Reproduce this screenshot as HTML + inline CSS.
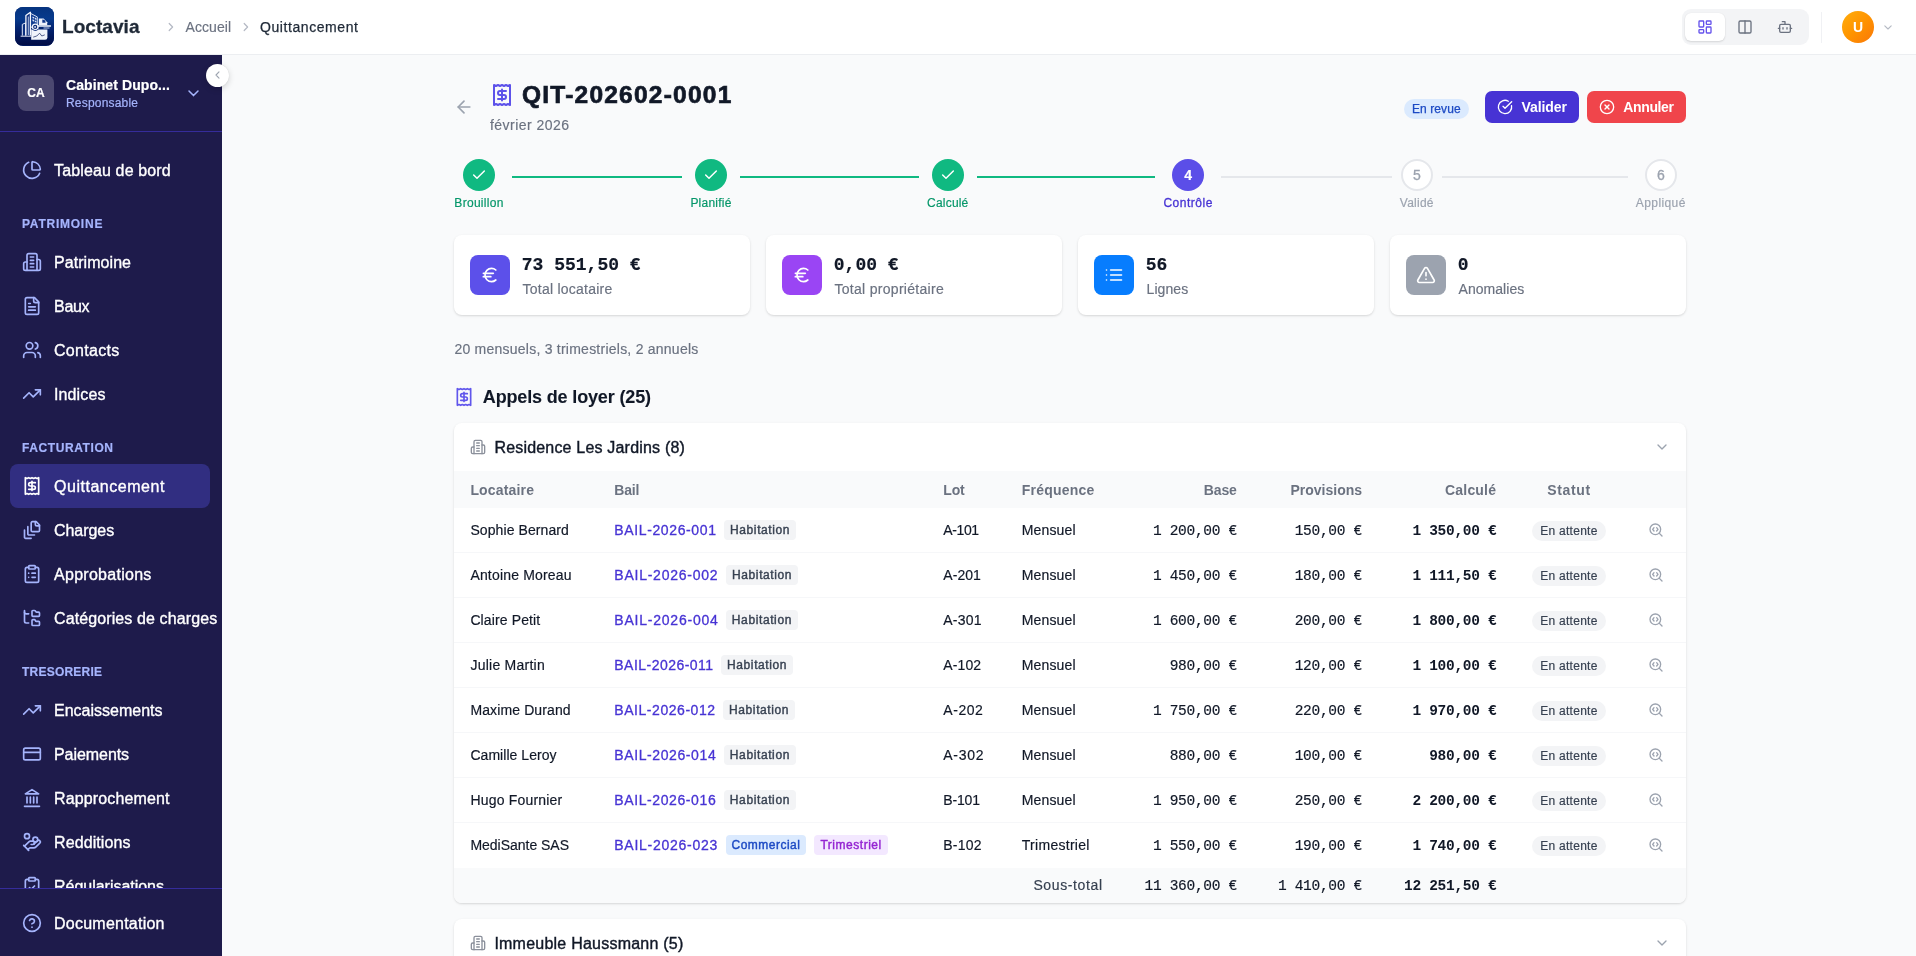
<!DOCTYPE html>
<html lang="fr">
<head>
<meta charset="utf-8">
<title>Loctavia - Quittancement</title>
<style>
*{box-sizing:border-box;margin:0;padding:0}
html,body{width:1916px;height:956px;overflow:hidden;background:#f9fafb;font-family:"Liberation Sans",sans-serif;color:#111827}
body{position:relative}
.abs{position:absolute}
svg{display:block;overflow:visible}
.ic{fill:none;stroke:currentColor;stroke-linecap:round;stroke-linejoin:round}
.mono{font-family:"Liberation Mono",monospace}
/* ---------- top bar ---------- */
#top{will-change:transform;position:absolute;left:0;top:0;width:1916px;height:55px;background:#fff;border-bottom:1px solid #eceef1;z-index:5}
#logo{position:absolute;left:14.5px;top:7px;width:39px;height:38.5px;border-radius:8px;background:#02267a;overflow:hidden}
#brand{position:absolute;left:62px;top:15px;font-size:19px;line-height:24px;font-weight:700;color:#1f2937;-webkit-text-stroke:.3px #1f2937;letter-spacing:.1px;white-space:nowrap}
.crumb{position:absolute;top:17px;font-size:14px;line-height:20px;white-space:nowrap;-webkit-text-stroke-width:.15px}
/* ---------- sidebar ---------- */
#side{-webkit-text-stroke-width:.2px;will-change:transform;position:absolute;left:0;top:55px;width:222px;height:901px;background:#1e1b4b;z-index:4}
.nav{position:absolute;left:54px;margin-top:.7px;font-size:16px;line-height:24px;color:#fff;white-space:nowrap;-webkit-text-stroke-width:.35px}
.nic{position:absolute;left:22px;width:20px;height:20px;color:#a5b4fc;margin-top:1px}
.lu{stroke-width:2}
.sec{position:absolute;left:22px;margin-top:1px;font-size:12px;line-height:16px;font-weight:700;color:#a5b4fc;letter-spacing:1.1px;white-space:nowrap}
/* ---------- main ---------- */
#main{-webkit-text-stroke-width:.18px;will-change:transform;position:absolute;left:0;top:0;width:1916px;height:956px;z-index:1}
.t14{font-size:14px;line-height:20px;white-space:nowrap}
.t12{font-size:12px;line-height:16px;white-space:nowrap}
.b{font-weight:700;-webkit-text-stroke-width:0}
.md{-webkit-text-stroke-width:.3px}
.sb{-webkit-text-stroke-width:.1px}
.md16{font-size:16px;line-height:24px;white-space:nowrap;color:#111827;-webkit-text-stroke-width:.4px}
.card{background:#fff;border-radius:8px;box-shadow:0 1px 3px rgba(0,0,0,.1),0 1px 2px rgba(0,0,0,.06)}
.th{font-size:14px;line-height:20px;font-weight:700;color:#6b7280;white-space:nowrap;-webkit-text-stroke-width:0}
.m14{margin-top:.5px;font-size:14.5px;letter-spacing:-.3px;margin-right:-.3px;line-height:20px;color:#111827;white-space:nowrap}
.bdg{height:20px;border-radius:4px;padding:0;text-align:center;font-size:12px;line-height:20px;white-space:nowrap;-webkit-text-stroke-width:.4px}
.bh{background:#f3f4f6;color:#374151}
.bc{background:#dbeafe;color:#1d4ac4}
.bt{background:#f3e8ff;color:#9424d2}
</style>
</head>
<body>

<!-- ================= TOP BAR ================= -->
<div id="top">
  <div id="logo">
    <svg width="39" height="38.500" viewBox="0 0 39 38.500">
      <defs>
        <linearGradient id="lg" x1="0" y1="0" x2="0" y2="1"><stop offset="0" stop-color="#06347f"/><stop offset=".3" stop-color="#073a8c"/><stop offset=".62" stop-color="#021f6a"/><stop offset="1" stop-color="#010c44"/></linearGradient>
      </defs>
      <rect width="39" height="38.500" fill="url(#lg)"/>
      <!-- small left building (outlined) -->
      <path d="M7.300 28.600V17.400l3.300-1.500v12.700" fill="#0b2f7e" stroke="#e4ebfa" stroke-width="1" stroke-linejoin="round"/>
      <!-- tall building right face -->
      <path d="M15.400 6.300 22.300 9.900V18.500l-6.900 2z" fill="#123f92" stroke="#eef3fd" stroke-width=".9" stroke-linejoin="round"/>
      <path d="M17.500 9.400l1.700.8v1.600l-1.700-.7zM19.900 10.600l1.500.7v1.600l-1.500-.7zM17.500 12.300l1.700.7v1.700l-1.700-.6zM19.900 13.400l1.500.6v1.600l-1.500-.5z" fill="#dbe5fa"/>
      <!-- tall building front face (outlined) -->
      <path d="M10.900 28.600V8.600l4.500-3.300V28.600" fill="#0a2d7c" stroke="#f3f6fe" stroke-width="1.300" stroke-linejoin="round"/>
      <path d="M13.300 9.500V28" stroke="#dfe8fb" stroke-width=".8"/>
      <!-- ground line -->
      <path d="M6 29.200h9.800" stroke="#e6ecfb" stroke-width="1" stroke-linecap="round"/>
      <!-- doc top with pie -->
      <path d="M23.800 11.400h4.800l3.600 3.800v3H23.800z" fill="#eef2fc"/>
      <path d="M27.300 12.500v3.300h3.300a3.300 3.300 0 0 0-3.300-3.300z" fill="#12398c"/>
      <!-- lower card -->
      <path d="M16.200 22.400h16.200v8a2.300 2.300 0 0 1-2.300 2.300H16.200z" fill="#f0f3fb"/>
      <path d="M18.600 30l3.200-1 2.800-2.800 2.200 2.800 2.600-1" fill="none" stroke="#2c3a6e" stroke-width=".8" stroke-linejoin="round" stroke-linecap="round"/>
      <!-- key -->
      <path d="M22.500 18.300h13.400v1.400H22.500z" fill="#f4f7fe"/>
      <path d="M28.500 20.400h6v1H28.500z" fill="#b9c7ea"/>
      <circle cx="20.200" cy="19.900" r="3.500" fill="#f4f7fe"/>
      <circle cx="20.200" cy="19.900" r="2.100" fill="#0a2a78"/>
      <circle cx="20.100" cy="19.900" r=".9" fill="#f4f7fe"/>
      <path d="M17 21.600a3.800 3.800 0 0 0 6.200.6" fill="none" stroke="#0a2a78" stroke-width=".9"/>
    </svg>
  </div>
  <div id="brand" style=";letter-spacing:0.06px">Loctavia</div>
  <svg class="abs ic" style="left:168px;top:22px;color:#b4b9c4" width="6" height="10" viewBox="0 0 6 10" stroke-width="1.2"><path d="M1.2 1.5 4.6 5 1.2 8.5"/></svg>
  <div class="crumb" id="c1" style="left:185.5px;color:#6b7280;letter-spacing:0.09px">Accueil</div>
  <svg class="abs ic" style="left:243px;top:22px;color:#b4b9c4" width="6" height="10" viewBox="0 0 6 10" stroke-width="1.2"><path d="M1.2 1.5 4.6 5 1.2 8.5"/></svg>
  <div class="crumb" id="c2" style="left:260px;color:#1f2937;-webkit-text-stroke:.25px #1f2937;letter-spacing:0.57px">Quittancement</div>

  <!-- view toggle -->
  <div class="abs" style="left:1681.5px;top:9px;width:127px;height:35.5px;border-radius:9px;background:#f3f4f6"></div>
  <div class="abs" style="left:1685px;top:13px;width:40px;height:27.5px;border-radius:6px;background:#fff;box-shadow:0 1px 2px rgba(0,0,0,.12),0 0 1px rgba(0,0,0,.08)"></div>
  <svg class="abs ic" style="left:1697px;top:19px;color:#6552ec" width="16" height="16" viewBox="0 0 24 24" stroke-width="2"><rect width="7" height="9" x="3" y="3" rx="1"/><rect width="7" height="5" x="14" y="3" rx="1"/><rect width="7" height="9" x="14" y="12" rx="1"/><rect width="7" height="5" x="3" y="16" rx="1"/></svg>
  <svg class="abs ic" style="left:1737px;top:19px;color:#6b7280" width="16" height="16" viewBox="0 0 24 24" stroke-width="2"><rect width="18" height="18" x="3" y="3" rx="2"/><path d="M12 3v18"/></svg>
  <svg class="abs ic" style="left:1777px;top:19px;color:#6b7280" width="16" height="16" viewBox="0 0 24 24" stroke-width="2"><path d="M12 8V4H8"/><rect width="16" height="12" x="4" y="8" rx="2"/><path d="M2 14h2"/><path d="M20 14h2"/><path d="M15 13v2"/><path d="M9 13v2"/></svg>
  <div class="abs" style="left:1821px;top:12px;width:1px;height:31px;background:#f0f1f4"></div>
  <div class="abs" style="left:1842px;top:11px;width:32px;height:32px;border-radius:50%;background:linear-gradient(135deg,#ffae0c 0%,#ff9400 50%,#fa7708 100%);color:#fff;font-size:14px;font-weight:700;line-height:32px;text-align:center">U</div>
  <svg class="abs ic" style="left:1884px;top:25px;color:#b4b9c3" width="8" height="5" viewBox="0 0 8 5" stroke-width="1.1"><path d="M.8.8 4 4 7.2.8"/></svg>
</div>

<!-- ================= SIDEBAR ================= -->
<div id="side">
  <!-- org switcher (coords relative to #side: y = page_y - 55) -->
  <div class="abs" style="left:18px;top:20px;width:36px;height:36px;border-radius:8px;background:#4b4870;color:#fff;font-size:12px;font-weight:700;line-height:36px;text-align:center;letter-spacing:.2px">CA</div>
  <div class="abs" id="org" style="left:66px;top:20px;font-size:14px;line-height:20px;font-weight:700;color:#fff;white-space:nowrap;letter-spacing:0.09px">Cabinet Dupo...</div>
  <div class="abs" id="role" style="left:66px;top:40px;font-size:12px;line-height:16px;color:#a5b4fc;white-space:nowrap;letter-spacing:0.19px">Responsable</div>
  <svg class="abs ic" style="left:188px;top:35px;color:#a5b4fc" width="11" height="7" viewBox="0 0 11 7" stroke-width="1.5"><path d="M1 1 5.5 5.6 10 1"/></svg>
  <div class="abs" style="left:0;top:76px;width:222px;height:1px;background:#352c9b"></div>

  <div class="abs" id="navclip" style="left:0;top:77px;width:222px;height:756px;overflow:hidden">
   <!-- coords inside clip: y = page_y - 132 -->
   <div class="abs" style="left:10px;top:332px;width:200px;height:44px;border-radius:8px;background:#312e81"></div>

   <svg class="nic ic lu" style="top:27px" viewBox="0 0 24 24"><path d="M21 12c.552 0 1.005-.449.95-.998a10 10 0 0 0-8.953-8.951c-.55-.055-.998.398-.998.95v8a1 1 0 0 0 1 1z"/><path d="M21.21 15.89A10 10 0 1 1 8 2.83"/></svg>
   <div class="nav" id="n1" style="top:26px;letter-spacing:0.14px">Tableau de bord</div>

   <div class="sec" id="s1" style="top:83px;letter-spacing:0.76px">PATRIMOINE</div>

   <svg class="nic ic lu" style="top:119px" viewBox="0 0 24 24"><path d="M6 22V4a2 2 0 0 1 2-2h8a2 2 0 0 1 2 2v18Z"/><path d="M6 12H4a2 2 0 0 0-2 2v6a2 2 0 0 0 2 2h2"/><path d="M18 9h2a2 2 0 0 1 2 2v9a2 2 0 0 1-2 2h-2"/><path d="M10 6h4M10 10h4M10 14h4M10 18h4"/></svg>
   <div class="nav" id="n2" style="top:118px;letter-spacing:0.06px">Patrimoine</div>

   <svg class="nic ic lu" style="top:163px" viewBox="0 0 24 24"><path d="M15 2H6a2 2 0 0 0-2 2v16a2 2 0 0 0 2 2h12a2 2 0 0 0 2-2V7Z"/><path d="M14 2v4a2 2 0 0 0 2 2h4"/><path d="M10 9H8M16 13H8M16 17H8"/></svg>
   <div class="nav" id="n3" style="top:162px;letter-spacing:-0.29px">Baux</div>

   <svg class="nic ic lu" style="top:207px" viewBox="0 0 24 24"><path d="M16 21v-2a4 4 0 0 0-4-4H6a4 4 0 0 0-4 4v2"/><circle cx="9" cy="7" r="4"/><path d="M22 21v-2a4 4 0 0 0-3-3.870"/><path d="M16 3.130a4 4 0 0 1 0 7.750"/></svg>
   <div class="nav" id="n4" style="top:206px;letter-spacing:0.31px">Contacts</div>

   <svg class="nic ic lu" style="top:251px" viewBox="0 0 24 24"><path d="M22 7 13.500 15.500 8.500 10.500 2 17"/><path d="M16 7h6v6"/></svg>
   <div class="nav" id="n5" style="top:250px;letter-spacing:0.12px">Indices</div>

   <div class="sec" id="s2" style="top:307px;letter-spacing:0.59px">FACTURATION</div>

   <svg class="nic ic lu" style="top:343px;color:#fff" viewBox="0 0 24 24"><path d="M4 2v20l2-1 2 1 2-1 2 1 2-1 2 1 2-1 2 1V2l-2 1-2-1-2 1-2-1-2 1-2-1-2 1Z"/><path d="M16 8h-6a2 2 0 1 0 0 4h4a2 2 0 1 1 0 4H8"/><path d="M12 17.500v-11"/></svg>
   <div class="nav" id="n6" style="top:342px;letter-spacing:0.53px">Quittancement</div>

   <svg class="nic ic lu" style="top:387px" viewBox="0 0 24 24"><path d="M21 7h-3a2 2 0 0 1-2-2V2"/><path d="M21 6v6.500c0 .8-.7 1.500-1.500 1.500h-7c-.8 0-1.500-.7-1.500-1.500v-9c0-.8.7-1.500 1.500-1.500H17Z"/><path d="M7 8v8.800c0 .3.2.6.4.8.2.2.5.4.8.4H15"/><path d="M3 12v8.800c0 .3.2.6.4.8.2.2.5.4.8.4H11"/></svg>
   <div class="nav" id="n7" style="top:386px;letter-spacing:-0.05px">Charges</div>

   <svg class="nic ic lu" style="top:431px" viewBox="0 0 24 24"><rect width="8" height="4" x="8" y="2" rx="1" ry="1"/><path d="M16 4h2a2 2 0 0 1 2 2v14a2 2 0 0 1-2 2H6a2 2 0 0 1-2-2V6a2 2 0 0 1 2-2h2"/><path d="M12 11h4M12 16h4M8 11h.01M8 16h.01"/></svg>
   <div class="nav" id="n8" style="top:430px;letter-spacing:0.28px">Approbations</div>

   <svg class="nic ic lu" style="top:475px" viewBox="0 0 24 24"><path d="M20 10a1 1 0 0 0 1-1V6a1 1 0 0 0-1-1h-2.500a1 1 0 0 1-.8-.4l-.9-1.200A1 1 0 0 0 15 3h-2a1 1 0 0 0-1 1v5a1 1 0 0 0 1 1Z"/><path d="M20 21a1 1 0 0 0 1-1v-3a1 1 0 0 0-1-1h-2.900a1 1 0 0 1-.880-.550l-.420-.850a1 1 0 0 0-.920-.6H13a1 1 0 0 0-1 1v5a1 1 0 0 0 1 1Z"/><path d="M3 5a2 2 0 0 0 2 2h3"/><path d="M3 3v13a2 2 0 0 0 2 2h3"/></svg>
   <div class="nav" id="n9" style="top:474px;letter-spacing:0.11px">Catégories de charges</div>

   <div class="sec" id="s3" style="top:531px;letter-spacing:0.22px">TRESORERIE</div>

   <svg class="nic ic lu" style="top:567px" viewBox="0 0 24 24"><path d="M22 7 13.500 15.500 8.500 10.500 2 17"/><path d="M16 7h6v6"/></svg>
   <div class="nav" id="n10" style="top:566px;letter-spacing:0.0px">Encaissements</div>

   <svg class="nic ic lu" style="top:611px" viewBox="0 0 24 24"><rect width="20" height="14" x="2" y="5" rx="2"/><path d="M2 10h20"/></svg>
   <div class="nav" id="n11" style="top:610px;letter-spacing:-0.06px">Paiements</div>

   <svg class="nic ic lu" style="top:655px" viewBox="0 0 24 24"><path d="M3 22h18M6 18v-7M10 18v-7M14 18v-7M18 18v-7"/><path d="M12 2l8 5H4z"/></svg>
   <div class="nav" id="n12" style="top:654px;letter-spacing:0.13px">Rapprochement</div>

   <svg class="nic ic lu" style="top:699px" viewBox="0 0 24 24"><path d="M11 15h2a2 2 0 1 0 0-4h-3c-.6 0-1.100.2-1.400.6L3 17"/><path d="m7 21 1.600-1.400c.3-.4.8-.6 1.400-.6h4c1.100 0 2.100-.4 2.800-1.200l4.600-4.400a2 2 0 0 0-2.750-2.910l-4.200 3.900"/><path d="m2 16 6 6"/><circle cx="16" cy="9" r="2.900"/><circle cx="6" cy="5" r="3"/></svg>
   <div class="nav" id="n13" style="top:698px;letter-spacing:0.1px">Redditions</div>

   <svg class="nic ic lu" style="top:743px" viewBox="0 0 24 24"><rect width="8" height="4" x="8" y="2" rx="1" ry="1"/><path d="M16 4h2a2 2 0 0 1 2 2v14a2 2 0 0 1-2 2H6a2 2 0 0 1-2-2V6a2 2 0 0 1 2-2h2"/><path d="m9 14 2 2 4-4"/></svg>
   <div class="nav" id="n14" style="top:742px;letter-spacing:-0.02px">Régularisations</div>
  </div>
  <div class="abs" style="left:0;top:833px;width:222px;height:1px;background:#352c9b"></div>
  <svg class="nic ic lu" style="top:857px" viewBox="0 0 24 24"><circle cx="12" cy="12" r="10"/><path d="M9.090 9a3 3 0 0 1 5.830 1c0 2-3 3-3 3"/><path d="M12 17h.01"/></svg>
  <div class="nav" id="n15" style="top:856px;letter-spacing:0.24px">Documentation</div>
</div>
<!-- collapse handle -->
<div class="abs" style="left:206px;top:63.5px;width:23px;height:23px;border-radius:50%;background:#fff;box-shadow:0 2px 6px rgba(0,0,0,.16),0 0 1px rgba(0,0,0,.2);z-index:6"></div>
<svg class="abs ic" style="left:214.5px;top:71px;color:#9ca3af;z-index:7" width="5" height="8" viewBox="0 0 5 8" stroke-width="1.1"><path d="M4 .8 1 4l3 3.2"/></svg>

<!-- ================= MAIN ================= -->
<!--MAIN-START-->
<div id="main">
<svg class="abs ic" style="left:453.8px;top:97px;color:#9ca3af" width="20" height="20" viewBox="0 0 24 24" stroke-width="2"><path d="m12 19-7-7 7-7"/><path d="M19 12H5"/></svg>
<svg class="abs ic" style="left:490px;top:83px;color:#5d52ea" width="24" height="24" viewBox="0 0 24 24" stroke-width="2"><path d="M4 2v20l2-1 2 1 2-1 2 1 2-1 2 1 2-1 2 1V2l-2 1-2-1-2 1-2-1-2 1-2-1-2 1Z"/><path d="M16 8h-6a2 2 0 1 0 0 4h4a2 2 0 1 1 0 4H8"/><path d="M12 17.500v-11"/></svg>
<div class="abs" id="ttl" style="left:522px;top:79px;font-size:24.5px;line-height:32px;font-weight:700;color:#111827;white-space:nowrap;-webkit-text-stroke-width:.7px;letter-spacing:1.23px">QIT-202602-0001</div>
<div class="abs t14" id="sub" style="left:490px;top:115px;color:#6b7280;letter-spacing:0.46px">février 2026</div>
<div class="abs" style="left:1404px;top:99px;width:65px;height:20px;border-radius:10px;background:#dbeafe"></div>
<div class="abs t12" id="rev" style="left:1412px;top:101px;color:#1d4ac4;-webkit-text-stroke-width:.25px;letter-spacing:0.08px">En revue</div>
<div class="abs" style="left:1485px;top:91px;width:94px;height:32px;border-radius:7px;background:#4733d4"></div>
<svg class="abs ic" style="left:1497px;top:99px;color:#fff" width="16" height="16" viewBox="0 0 24 24" stroke-width="2"><path d="M21.801 10A10 10 0 1 1 17 3.335"/><path d="m9 11 3 3L22 4"/></svg>
<div class="abs t14 b" id="bv" style="left:1521.5px;top:97px;color:#fff;letter-spacing:-0.09px">Valider</div>
<div class="abs" style="left:1587px;top:91px;width:99px;height:32px;border-radius:7px;background:#f0454b"></div>
<svg class="abs ic" style="left:1599px;top:99px;color:#fff" width="16" height="16" viewBox="0 0 24 24" stroke-width="2"><circle cx="12" cy="12" r="10"/><path d="m15 9-6 6"/><path d="m9 9 6 6"/></svg>
<div class="abs t14 b" id="ba" style="left:1623.3px;top:97px;color:#fff;letter-spacing:-0.37px">Annuler</div>
<div class="abs" style="left:512.2px;top:175.5px;width:169.7px;height:2px;background:#10b981"></div>
<div class="abs" style="left:740.3px;top:175.5px;width:178.5px;height:2px;background:#10b981"></div>
<div class="abs" style="left:977px;top:175.5px;width:178px;height:2px;background:#10b981"></div>
<div class="abs" style="left:1221.3px;top:175.5px;width:170.4px;height:2px;background:#e5e7eb"></div>
<div class="abs" style="left:1442px;top:175.5px;width:185.6px;height:2px;background:#e5e7eb"></div>
<div class="abs" style="left:463px;top:159px;width:32px;height:32px;border-radius:50%;background:#10b981"></div>
<svg class="abs ic" style="left:471px;top:167px;color:#fff" width="16" height="16" viewBox="0 0 24 24" stroke-width="2.2"><path d="M20 6 9 17l-5-5"/></svg>
<div class="abs t12" style="left:429px;top:194.8px;width:100px;text-align:center;color:#059669"><span id="st1" style="letter-spacing:0.29px">Brouillon</span></div>
<div class="abs" style="left:695px;top:159px;width:32px;height:32px;border-radius:50%;background:#10b981"></div>
<svg class="abs ic" style="left:703px;top:167px;color:#fff" width="16" height="16" viewBox="0 0 24 24" stroke-width="2.2"><path d="M20 6 9 17l-5-5"/></svg>
<div class="abs t12" style="left:661px;top:194.8px;width:100px;text-align:center;color:#059669"><span id="st2" style="letter-spacing:0.23px">Planifié</span></div>
<div class="abs" style="left:931.8px;top:159px;width:32px;height:32px;border-radius:50%;background:#10b981"></div>
<svg class="abs ic" style="left:939.8px;top:167px;color:#fff" width="16" height="16" viewBox="0 0 24 24" stroke-width="2.2"><path d="M20 6 9 17l-5-5"/></svg>
<div class="abs t12" style="left:897.8px;top:194.8px;width:100px;text-align:center;color:#059669"><span id="st3" style="letter-spacing:0.19px">Calculé</span></div>
<div class="abs" style="left:1172.2px;top:159px;width:32px;height:32px;border-radius:50%;background:#5b4ee8;color:#fff;font-size:14px;font-weight:700;line-height:32px;text-align:center">4</div>
<div class="abs t12 md" style="left:1138.2px;top:194.8px;width:100px;text-align:center;color:#4733d4"><span id="st4" style="letter-spacing:0.52px">Contrôle</span></div>
<div class="abs" style="left:1400.8px;top:159px;width:32px;height:32px;border-radius:50%;background:#fff;border:2px solid #e5e7eb;color:#9ca3af;font-size:14px;line-height:28px;text-align:center;-webkit-text-stroke:.3px #9ca3af">5</div>
<div class="abs t12" style="left:1366.8px;top:194.8px;width:100px;text-align:center;color:#9ca3af"><span id="st5" style="letter-spacing:0.23px">Validé</span></div>
<div class="abs" style="left:1644.8px;top:159px;width:32px;height:32px;border-radius:50%;background:#fff;border:2px solid #e5e7eb;color:#9ca3af;font-size:14px;line-height:28px;text-align:center;-webkit-text-stroke:.3px #9ca3af">6</div>
<div class="abs t12" style="left:1610.8px;top:194.8px;width:100px;text-align:center;color:#9ca3af"><span id="st6" style="letter-spacing:0.4px">Appliqué</span></div>
<div class="abs card" style="left:454px;top:235px;width:296px;height:79.5px"></div>
<div class="abs" style="left:470px;top:255px;width:40px;height:40px;border-radius:8px;background:#5c50ea"></div>
<svg class="abs ic" style="left:480px;top:265px;color:#fff" width="20" height="20" viewBox="0 0 24 24" stroke-width="2"><path d="M4 10h12"/><path d="M4 14h9"/><path d="M19 6a7.700 7.700 0 0 0-5.200-2A7.900 7.900 0 0 0 6 12c0 4.400 3.500 8 7.800 8 2 0 3.800-.8 5.200-2"/></svg>
<div class="abs mono" style="left:521.8px;top:253px;font-size:18px;line-height:24px;font-weight:700;color:#111827;white-space:nowrap">73 551,50 €</div>
<div class="abs t14" id="k1" style="left:522.5px;top:279px;color:#6b7280;letter-spacing:0.24px">Total locataire</div>
<div class="abs card" style="left:766px;top:235px;width:296px;height:79.5px"></div>
<div class="abs" style="left:782px;top:255px;width:40px;height:40px;border-radius:8px;background:#9a45f4"></div>
<svg class="abs ic" style="left:792px;top:265px;color:#fff" width="20" height="20" viewBox="0 0 24 24" stroke-width="2"><path d="M4 10h12"/><path d="M4 14h9"/><path d="M19 6a7.700 7.700 0 0 0-5.200-2A7.900 7.900 0 0 0 6 12c0 4.400 3.500 8 7.800 8 2 0 3.800-.8 5.200-2"/></svg>
<div class="abs mono" style="left:833.8px;top:253px;font-size:18px;line-height:24px;font-weight:700;color:#111827;white-space:nowrap">0,00 €</div>
<div class="abs t14" id="k2" style="left:834.5px;top:279px;color:#6b7280;letter-spacing:0.29px">Total propriétaire</div>
<div class="abs card" style="left:1078px;top:235px;width:296px;height:79.5px"></div>
<div class="abs" style="left:1094px;top:255px;width:40px;height:40px;border-radius:8px;background:#077dfe"></div>
<svg class="abs ic" style="left:1104px;top:265px;color:#fff" width="20" height="20" viewBox="0 0 24 24" stroke-width="2"><path d="M3 12h.01"/><path d="M3 18h.01"/><path d="M3 6h.01"/><path d="M8 12h13"/><path d="M8 18h13"/><path d="M8 6h13"/></svg>
<div class="abs mono" style="left:1145.8px;top:253px;font-size:18px;line-height:24px;font-weight:700;color:#111827;white-space:nowrap">56</div>
<div class="abs t14" id="k3" style="left:1146.5px;top:279px;color:#6b7280;letter-spacing:0.09px">Lignes</div>
<div class="abs card" style="left:1390px;top:235px;width:296px;height:79.5px"></div>
<div class="abs" style="left:1406px;top:255px;width:40px;height:40px;border-radius:8px;background:#9ca3af"></div>
<svg class="abs ic" style="left:1416px;top:265px;color:#fff" width="20" height="20" viewBox="0 0 24 24" stroke-width="2"><path d="m21.730 18-8-14a2 2 0 0 0-3.480 0l-8 14A2 2 0 0 0 4 21h16a2 2 0 0 0 1.730-3"/><path d="M12 9v4"/><path d="M12 17h.01"/></svg>
<div class="abs mono" style="left:1457.8px;top:253px;font-size:18px;line-height:24px;font-weight:700;color:#111827;white-space:nowrap">0</div>
<div class="abs t14" id="k4" style="left:1458.5px;top:279px;color:#6b7280;letter-spacing:0.05px">Anomalies</div>
<div class="abs t14" id="freq" style="left:454.4px;top:339px;color:#6b7280;letter-spacing:0.24px">20 mensuels, 3 trimestriels, 2 annuels</div>
<svg class="abs ic" style="left:454px;top:387px;color:#6156ec" width="20" height="20" viewBox="0 0 24 24" stroke-width="2"><path d="M4 2v20l2-1 2 1 2-1 2 1 2-1 2 1 2-1 2 1V2l-2 1-2-1-2 1-2-1-2 1-2-1-2 1Z"/><path d="M16 8h-6a2 2 0 1 0 0 4h4a2 2 0 1 1 0 4H8"/><path d="M12 17.500v-11"/></svg>
<div class="abs sb" id="h2" style="left:482.8px;top:383px;font-size:18px;line-height:28px;font-weight:700;color:#111827;white-space:nowrap;letter-spacing:-0.15px">Appels de loyer (25)</div>
<div class="abs card" style="left:454px;top:423px;width:1232px;height:480px"></div>
<svg class="abs ic" style="left:470px;top:439px;color:#8b909b" width="16" height="16" viewBox="0 0 24 24" stroke-width="2"><path d="M6 22V4a2 2 0 0 1 2-2h8a2 2 0 0 1 2 2v18Z"/><path d="M6 12H4a2 2 0 0 0-2 2v6a2 2 0 0 0 2 2h2"/><path d="M18 9h2a2 2 0 0 1 2 2v9a2 2 0 0 1-2 2h-2"/><path d="M10 6h4"/><path d="M10 10h4"/><path d="M10 14h4"/><path d="M10 18h4"/></svg>
<div class="abs md16" id="g1" style="left:494.4px;top:436px;letter-spacing:0.19px">Residence Les Jardins (8)</div>
<svg class="abs ic" style="left:1654px;top:439px;color:#9ca3af" width="16" height="16" viewBox="0 0 24 24" stroke-width="2"><path d="m6 9 6 6 6-6"/></svg>
<div class="abs" style="left:454px;top:471px;width:1232px;height:37px;background:#f9fafb"></div>
<div class="abs th" id="th1" style="left:470.4px;top:480px;letter-spacing:0.16px">Locataire</div>
<div class="abs th" id="th2" style="left:614.3px;top:480px;letter-spacing:-0.23px">Bail</div>
<div class="abs th" id="th3" style="left:943.3px;top:480px;letter-spacing:-0.18px">Lot</div>
<div class="abs th" id="th4" style="left:1021.8px;top:480px;letter-spacing:0.22px">Fréquence</div>
<div class="abs th" style="right:679.3px;top:480px"><span id="th5" style="letter-spacing:-0.16px">Base</span></div>
<div class="abs th" style="right:554px;top:480px"><span id="th6" style="letter-spacing:-0.01px">Provisions</span></div>
<div class="abs th" style="right:419.8px;top:480px"><span id="th7" style="letter-spacing:0.2px">Calculé</span></div>
<div class="abs th" style="left:1519px;top:480px;width:100px;text-align:center"><span id="th8" style="letter-spacing:0.63px">Statut</span></div>
<div class="abs" style="left:454px;top:552px;width:1232px;height:1px;background:#f6f7f9"></div>
<div class="abs t14" id="r0n" style="left:470.4px;top:520px;color:#111827;letter-spacing:0.09px">Sophie Bernard</div>
<div class="abs t14 md" id="r0b" style="left:614.3px;top:520px;color:#4733d4;letter-spacing:0.62px">BAIL-2026-001</div>
<div class="abs bdg bh" style="left:724.2px;top:520px;width:71.8px"><span id="r0g0t" style="letter-spacing:0.61px">Habitation</span></div>
<div class="abs t14" id="r0l" style="left:943.3px;top:520px;color:#111827;letter-spacing:-0.39px">A-101</div>
<div class="abs t14" id="r0f" style="left:1021.8px;top:520px;color:#111827;letter-spacing:0.13px">Mensuel</div>
<div class="abs mono m14" style="right:679.4000000000001px;top:520px">1 200,00 €</div>
<div class="abs mono m14" style="right:554.4000000000001px;top:520px">150,00 €</div>
<div class="abs mono m14 b" style="right:419.9000000000001px;top:520px">1 350,00 €</div>
<div class="abs" style="left:1532px;top:520.5px;width:73.5px;height:20px;border-radius:10px;background:#f3f4f6"></div>
<div class="abs t12" id="r0s" style="left:1540.3px;top:522.5px;color:#374151;letter-spacing:0.26px">En attente</div>
<svg class="abs ic" style="left:1648px;top:522px;color:#9ca3af" width="16" height="16" viewBox="0 0 24 24" stroke-width="2"><path d="m13 13.500 2-2.500-2-2.500"/><path d="m21 21-4.300-4.300"/><path d="M9 8.500 7 11l2 2.500"/><circle cx="11" cy="11" r="8"/></svg>
<div class="abs" style="left:454px;top:597px;width:1232px;height:1px;background:#f6f7f9"></div>
<div class="abs t14" id="r1n" style="left:470.4px;top:565px;color:#111827;letter-spacing:0.18px">Antoine Moreau</div>
<div class="abs t14 md" id="r1b" style="left:614.3px;top:565px;color:#4733d4;letter-spacing:0.76px">BAIL-2026-002</div>
<div class="abs bdg bh" style="left:726.2px;top:565px;width:71.8px"><span id="r1g0t" style="letter-spacing:0.61px">Habitation</span></div>
<div class="abs t14" id="r1l" style="left:943.3px;top:565px;color:#111827;letter-spacing:0.04px">A-201</div>
<div class="abs t14" id="r1f" style="left:1021.8px;top:565px;color:#111827;letter-spacing:0.13px">Mensuel</div>
<div class="abs mono m14" style="right:679.4000000000001px;top:565px">1 450,00 €</div>
<div class="abs mono m14" style="right:554.4000000000001px;top:565px">180,00 €</div>
<div class="abs mono m14 b" style="right:419.9000000000001px;top:565px">1 111,50 €</div>
<div class="abs" style="left:1532px;top:565.5px;width:73.5px;height:20px;border-radius:10px;background:#f3f4f6"></div>
<div class="abs t12" id="r1s" style="left:1540.3px;top:567.5px;color:#374151;letter-spacing:0.26px">En attente</div>
<svg class="abs ic" style="left:1648px;top:567px;color:#9ca3af" width="16" height="16" viewBox="0 0 24 24" stroke-width="2"><path d="m13 13.500 2-2.500-2-2.500"/><path d="m21 21-4.300-4.300"/><path d="M9 8.500 7 11l2 2.500"/><circle cx="11" cy="11" r="8"/></svg>
<div class="abs" style="left:454px;top:642px;width:1232px;height:1px;background:#f6f7f9"></div>
<div class="abs t14" id="r2n" style="left:470.4px;top:610px;color:#111827;letter-spacing:0.12px">Claire Petit</div>
<div class="abs t14 md" id="r2b" style="left:614.3px;top:610px;color:#4733d4;letter-spacing:0.78px">BAIL-2026-004</div>
<div class="abs bdg bh" style="left:726px;top:610px;width:71.8px"><span id="r2g0t" style="letter-spacing:0.61px">Habitation</span></div>
<div class="abs t14" id="r2l" style="left:943.3px;top:610px;color:#111827;letter-spacing:0.19px">A-301</div>
<div class="abs t14" id="r2f" style="left:1021.8px;top:610px;color:#111827;letter-spacing:0.13px">Mensuel</div>
<div class="abs mono m14" style="right:679.4000000000001px;top:610px">1 600,00 €</div>
<div class="abs mono m14" style="right:554.4000000000001px;top:610px">200,00 €</div>
<div class="abs mono m14 b" style="right:419.9000000000001px;top:610px">1 800,00 €</div>
<div class="abs" style="left:1532px;top:610.5px;width:73.5px;height:20px;border-radius:10px;background:#f3f4f6"></div>
<div class="abs t12" id="r2s" style="left:1540.3px;top:612.5px;color:#374151;letter-spacing:0.26px">En attente</div>
<svg class="abs ic" style="left:1648px;top:612px;color:#9ca3af" width="16" height="16" viewBox="0 0 24 24" stroke-width="2"><path d="m13 13.500 2-2.500-2-2.500"/><path d="m21 21-4.300-4.300"/><path d="M9 8.500 7 11l2 2.500"/><circle cx="11" cy="11" r="8"/></svg>
<div class="abs" style="left:454px;top:687px;width:1232px;height:1px;background:#f6f7f9"></div>
<div class="abs t14" id="r3n" style="left:470.4px;top:655px;color:#111827;letter-spacing:0.25px">Julie Martin</div>
<div class="abs t14 md" id="r3b" style="left:614.3px;top:655px;color:#4733d4;letter-spacing:0.47px">BAIL-2026-011</div>
<div class="abs bdg bh" style="left:721.2px;top:655px;width:71.8px"><span id="r3g0t" style="letter-spacing:0.61px">Habitation</span></div>
<div class="abs t14" id="r3l" style="left:943.3px;top:655px;color:#111827;letter-spacing:0.11px">A-102</div>
<div class="abs t14" id="r3f" style="left:1021.8px;top:655px;color:#111827;letter-spacing:0.13px">Mensuel</div>
<div class="abs mono m14" style="right:679.4000000000001px;top:655px">980,00 €</div>
<div class="abs mono m14" style="right:554.4000000000001px;top:655px">120,00 €</div>
<div class="abs mono m14 b" style="right:419.9000000000001px;top:655px">1 100,00 €</div>
<div class="abs" style="left:1532px;top:655.5px;width:73.5px;height:20px;border-radius:10px;background:#f3f4f6"></div>
<div class="abs t12" id="r3s" style="left:1540.3px;top:657.5px;color:#374151;letter-spacing:0.26px">En attente</div>
<svg class="abs ic" style="left:1648px;top:657px;color:#9ca3af" width="16" height="16" viewBox="0 0 24 24" stroke-width="2"><path d="m13 13.500 2-2.500-2-2.500"/><path d="m21 21-4.300-4.300"/><path d="M9 8.500 7 11l2 2.500"/><circle cx="11" cy="11" r="8"/></svg>
<div class="abs" style="left:454px;top:732px;width:1232px;height:1px;background:#f6f7f9"></div>
<div class="abs t14" id="r4n" style="left:470.4px;top:700px;color:#111827;letter-spacing:0.12px">Maxime Durand</div>
<div class="abs t14 md" id="r4b" style="left:614.3px;top:700px;color:#4733d4;letter-spacing:0.55px">BAIL-2026-012</div>
<div class="abs bdg bh" style="left:723.2px;top:700px;width:71.8px"><span id="r4g0t" style="letter-spacing:0.61px">Habitation</span></div>
<div class="abs t14" id="r4l" style="left:943.3px;top:700px;color:#111827;letter-spacing:0.54px">A-202</div>
<div class="abs t14" id="r4f" style="left:1021.8px;top:700px;color:#111827;letter-spacing:0.13px">Mensuel</div>
<div class="abs mono m14" style="right:679.4000000000001px;top:700px">1 750,00 €</div>
<div class="abs mono m14" style="right:554.4000000000001px;top:700px">220,00 €</div>
<div class="abs mono m14 b" style="right:419.9000000000001px;top:700px">1 970,00 €</div>
<div class="abs" style="left:1532px;top:700.5px;width:73.5px;height:20px;border-radius:10px;background:#f3f4f6"></div>
<div class="abs t12" id="r4s" style="left:1540.3px;top:702.5px;color:#374151;letter-spacing:0.26px">En attente</div>
<svg class="abs ic" style="left:1648px;top:702px;color:#9ca3af" width="16" height="16" viewBox="0 0 24 24" stroke-width="2"><path d="m13 13.500 2-2.500-2-2.500"/><path d="m21 21-4.300-4.300"/><path d="M9 8.500 7 11l2 2.500"/><circle cx="11" cy="11" r="8"/></svg>
<div class="abs" style="left:454px;top:777px;width:1232px;height:1px;background:#f6f7f9"></div>
<div class="abs t14" id="r5n" style="left:470.4px;top:745px;color:#111827;letter-spacing:0.05px">Camille Leroy</div>
<div class="abs t14 md" id="r5b" style="left:614.3px;top:745px;color:#4733d4;letter-spacing:0.6px">BAIL-2026-014</div>
<div class="abs bdg bh" style="left:724px;top:745px;width:71.8px"><span id="r5g0t" style="letter-spacing:0.61px">Habitation</span></div>
<div class="abs t14" id="r5l" style="left:943.3px;top:745px;color:#111827;letter-spacing:0.69px">A-302</div>
<div class="abs t14" id="r5f" style="left:1021.8px;top:745px;color:#111827;letter-spacing:0.13px">Mensuel</div>
<div class="abs mono m14" style="right:679.4000000000001px;top:745px">880,00 €</div>
<div class="abs mono m14" style="right:554.4000000000001px;top:745px">100,00 €</div>
<div class="abs mono m14 b" style="right:419.9000000000001px;top:745px">980,00 €</div>
<div class="abs" style="left:1532px;top:745.5px;width:73.5px;height:20px;border-radius:10px;background:#f3f4f6"></div>
<div class="abs t12" id="r5s" style="left:1540.3px;top:747.5px;color:#374151;letter-spacing:0.26px">En attente</div>
<svg class="abs ic" style="left:1648px;top:747px;color:#9ca3af" width="16" height="16" viewBox="0 0 24 24" stroke-width="2"><path d="m13 13.500 2-2.500-2-2.500"/><path d="m21 21-4.300-4.300"/><path d="M9 8.500 7 11l2 2.500"/><circle cx="11" cy="11" r="8"/></svg>
<div class="abs" style="left:454px;top:822px;width:1232px;height:1px;background:#f6f7f9"></div>
<div class="abs t14" id="r6n" style="left:470.4px;top:790px;color:#111827;letter-spacing:0.19px">Hugo Fournier</div>
<div class="abs t14 md" id="r6b" style="left:614.3px;top:790px;color:#4733d4;letter-spacing:0.6px">BAIL-2026-016</div>
<div class="abs bdg bh" style="left:724px;top:790px;width:71.8px"><span id="r6g0t" style="letter-spacing:0.61px">Habitation</span></div>
<div class="abs t14" id="r6l" style="left:943.3px;top:790px;color:#111827;letter-spacing:-0.16px">B-101</div>
<div class="abs t14" id="r6f" style="left:1021.8px;top:790px;color:#111827;letter-spacing:0.13px">Mensuel</div>
<div class="abs mono m14" style="right:679.4000000000001px;top:790px">1 950,00 €</div>
<div class="abs mono m14" style="right:554.4000000000001px;top:790px">250,00 €</div>
<div class="abs mono m14 b" style="right:419.9000000000001px;top:790px">2 200,00 €</div>
<div class="abs" style="left:1532px;top:790.5px;width:73.5px;height:20px;border-radius:10px;background:#f3f4f6"></div>
<div class="abs t12" id="r6s" style="left:1540.3px;top:792.5px;color:#374151;letter-spacing:0.26px">En attente</div>
<svg class="abs ic" style="left:1648px;top:792px;color:#9ca3af" width="16" height="16" viewBox="0 0 24 24" stroke-width="2"><path d="m13 13.500 2-2.500-2-2.500"/><path d="m21 21-4.300-4.300"/><path d="M9 8.500 7 11l2 2.500"/><circle cx="11" cy="11" r="8"/></svg>
<div class="abs t14" id="r7n" style="left:470.4px;top:835px;color:#111827;letter-spacing:-0.02px">MediSante SAS</div>
<div class="abs t14 md" id="r7b" style="left:614.3px;top:835px;color:#4733d4;letter-spacing:0.74px">BAIL-2026-023</div>
<div class="abs bdg bc" style="left:726px;top:835px;width:80px"><span id="r7g0t" style="letter-spacing:0.49px">Commercial</span></div>
<div class="abs bdg bt" style="left:814.1px;top:835px;width:74px"><span id="r7g1t" style="letter-spacing:0.52px">Trimestriel</span></div>
<div class="abs t14" id="r7l" style="left:943.3px;top:835px;color:#111827;letter-spacing:0.19px">B-102</div>
<div class="abs t14" id="r7f" style="left:1021.8px;top:835px;color:#111827;letter-spacing:0.28px">Trimestriel</div>
<div class="abs mono m14" style="right:679.4000000000001px;top:835px">1 550,00 €</div>
<div class="abs mono m14" style="right:554.4000000000001px;top:835px">190,00 €</div>
<div class="abs mono m14 b" style="right:419.9000000000001px;top:835px">1 740,00 €</div>
<div class="abs" style="left:1532px;top:835.5px;width:73.5px;height:20px;border-radius:10px;background:#f3f4f6"></div>
<div class="abs t12" id="r7s" style="left:1540.3px;top:837.5px;color:#374151;letter-spacing:0.26px">En attente</div>
<svg class="abs ic" style="left:1648px;top:837px;color:#9ca3af" width="16" height="16" viewBox="0 0 24 24" stroke-width="2"><path d="m13 13.500 2-2.500-2-2.500"/><path d="m21 21-4.300-4.300"/><path d="M9 8.500 7 11l2 2.500"/><circle cx="11" cy="11" r="8"/></svg>
<div class="abs" style="left:454px;top:868px;width:1232px;height:35px;background:#f9fafb;border-radius:0 0 8px 8px"></div>
<div class="abs t14" style="right:813.4000000000001px;top:875px;color:#374151"><span id="sst" style="letter-spacing:0.62px">Sous-total</span></div>
<div class="abs mono m14" style="right:679.4000000000001px;top:875px">11 360,00 €</div>
<div class="abs mono m14" style="right:554.4000000000001px;top:875px">1 410,00 €</div>
<div class="abs mono m14 b" style="right:419.9000000000001px;top:875px">12 251,50 €</div>
<div class="abs card" style="left:454px;top:919px;width:1232px;height:60px"></div>
<svg class="abs ic" style="left:470px;top:935px;color:#8b909b" width="16" height="16" viewBox="0 0 24 24" stroke-width="2"><path d="M6 22V4a2 2 0 0 1 2-2h8a2 2 0 0 1 2 2v18Z"/><path d="M6 12H4a2 2 0 0 0-2 2v6a2 2 0 0 0 2 2h2"/><path d="M18 9h2a2 2 0 0 1 2 2v9a2 2 0 0 1-2 2h-2"/><path d="M10 6h4"/><path d="M10 10h4"/><path d="M10 14h4"/><path d="M10 18h4"/></svg>
<div class="abs md16" id="g2" style="left:494.4px;top:932px;letter-spacing:0.23px">Immeuble Haussmann (5)</div>
<svg class="abs ic" style="left:1654px;top:935px;color:#9ca3af" width="16" height="16" viewBox="0 0 24 24" stroke-width="2"><path d="m6 9 6 6 6-6"/></svg>
</div>
<!--MAIN-END-->

</body>
</html>
